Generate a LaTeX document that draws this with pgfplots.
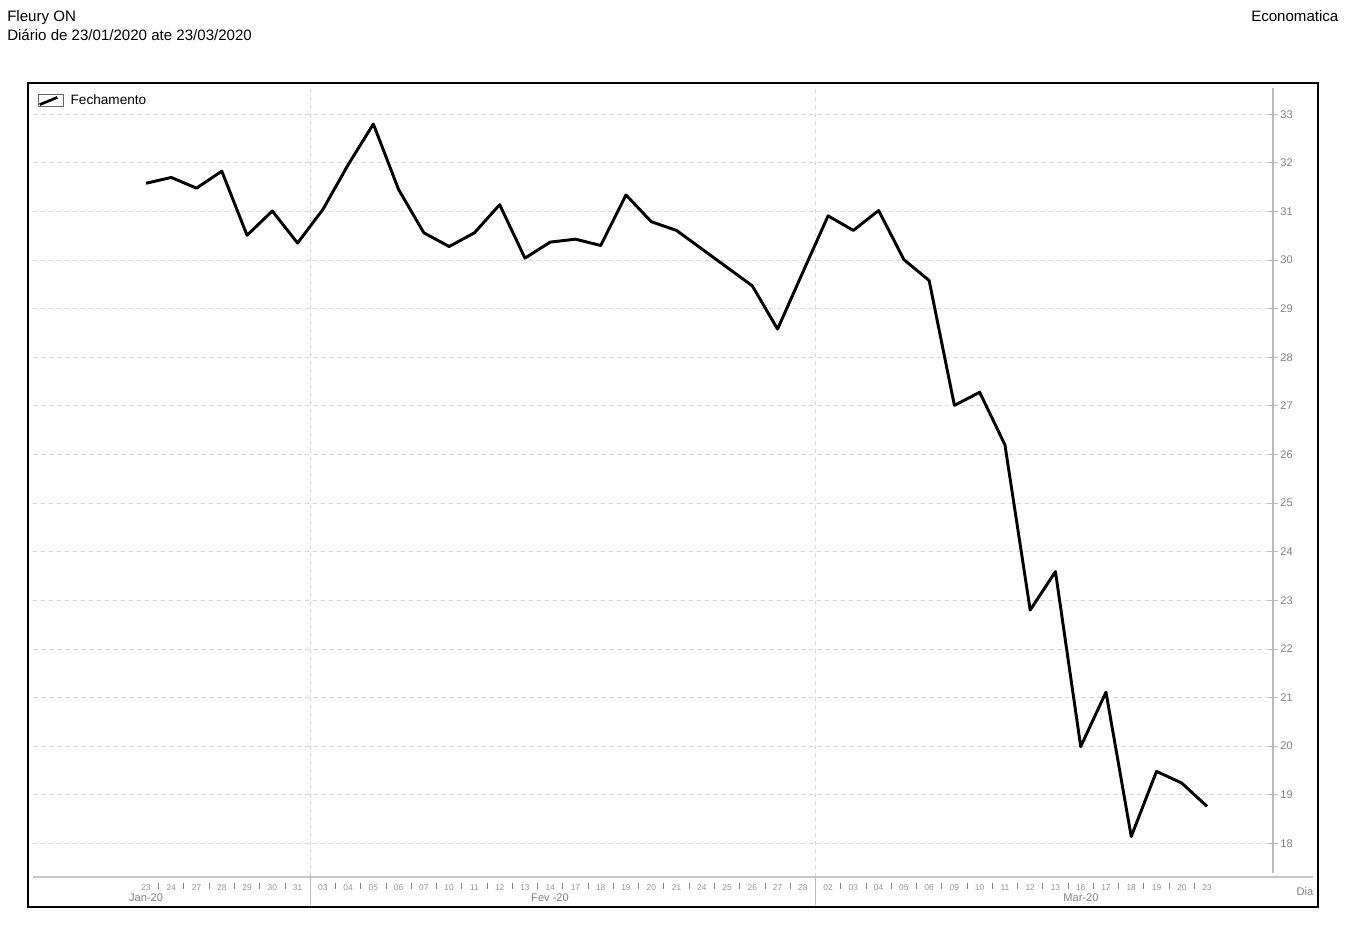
\documentclass[border=0pt]{standalone}
\usepackage{pgfplots}
\pgfplotsset{compat=1.18}
\usepackage{fontspec}
\setmainfont{Liberation Sans}
\definecolor{tickgray}{RGB}{128,128,128}
\definecolor{axgray}{RGB}{185,185,185}
\definecolor{gridgray}{RGB}{215,215,215}

\begin{document}
\begin{tikzpicture}[x=0.75pt,y=0.75pt]
% page = 1345 x 927 px, coordinates below in px (y measured upward)
\path[use as bounding box] (0,0) rectangle (1345,927);

\node[anchor=base west,inner sep=0pt,font=\fontsize{11.3}{13}\selectfont] at (7,905) {Fleury ON};
\node[anchor=base west,inner sep=0pt,font=\fontsize{11.3}{13}\selectfont] at (7,886) {Diário de 23/01/2020 ate 23/03/2020};
\node[anchor=base west,inner sep=0pt,font=\fontsize{11.3}{13}\selectfont] at (1251,905) {Economatica};

\begin{axis}[
    at={(24.75pt,37.5pt)}, anchor=south west,
    scale only axis,
    width=930pt, height=591.9pt,
    xmin=-4.473, xmax=44.612,
    ymin=17.307, ymax=33.545,
    axis line style={draw=none},
    clip=false,
    /pgf/number format/assume math mode=true,
    ytick={18,...,33},
    ytick pos=right, yticklabel pos=right,
    yticklabel style={font=\fontsize{8.3}{10}\selectfont, text=tickgray, xshift=-1.5pt},
    ytick style={axgray, line width=0.6pt},
    tick align=center,
    major tick length=7pt,
    ymajorgrids=true,
    major grid style={gridgray, dashed, dash pattern=on 3pt off 3pt, line width=0.6pt},
    xtick={0,...,42},
    xticklabels={23,24,27,28,29,30,31,03,04,05,06,07,10,11,12,13,14,17,18,19,20,21,24,25,26,27,28,02,03,04,05,06,09,10,11,12,13,16,17,18,19,20,23},
    xtick pos=bottom,
    x tick style={draw=none},
    xticklabel style={font=\fontsize{6.3}{7}\selectfont, text=tickgray!85, yshift=1.5pt},
    extra x ticks={6.5,26.5},
    extra x tick labels={},
    extra x tick style={grid=major, tick style={draw=none}},
    legend style={at={(rel axis cs:0.003,0.997)}, anchor=north west, draw=none, fill=none,
        font=\fontsize{10.2}{12}\selectfont, inner xsep=1pt, inner ysep=1pt},
    legend cell align=left,
    legend image code/.code={
        \path[draw=none] (0pt,0pt) -- (22pt,0pt);
        \draw[black!60, line width=0.5pt] (0pt,-4.5pt) rectangle (18.5pt,4.5pt);
        \draw[black, line width=2pt] (0.8pt,-3.2pt) -- (14pt,2.2pt);
    },
]
\addplot[black, line width=2.2pt, line join=round] coordinates {
    (0,31.58) (1,31.70) (2,31.48) (3,31.83) (4,30.51) (5,31.01) (6,30.35)
    (7,31.04) (8,31.96) (9,32.80) (10,31.45) (11,30.56) (12,30.28) (13,30.56)
    (14,31.14) (15,30.04) (16,30.37) (17,30.43) (18,30.30) (19,31.34) (20,30.79)
    (21,30.61) (22,30.23) (23,29.85) (24,29.47) (25,28.58) (26,29.75)
    (27,30.91) (28,30.61) (29,31.02) (30,30.01) (31,29.58) (32,27.01) (33,27.28)
    (34,26.20) (35,22.80) (36,23.59) (37,19.99) (38,21.11) (39,18.14) (40,19.48)
    (41,19.24) (42,18.76)
};
\addlegendentry{Fechamento}
\end{axis}

% axis lines, separators and frame
\draw[axgray, line width=0.9pt] (1273,839) -- (1273,54);
\draw[gridgray!80!gray, line width=0.9pt] (33,50) -- (1313,50);
\draw[axgray, line width=0.9pt] (310.2,50) -- (310.2,22);
\draw[axgray, line width=0.9pt] (815.4,50) -- (815.4,22);
\foreach \i in {0,...,5,7,8,...,25,27,28,...,41}
    \draw[tickgray, line width=0.6pt] ({146+25.262*(\i+0.5)},43.5) -- ++(0,-6);
\node[anchor=base,font=\fontsize{8.3}{10}\selectfont,text=tickgray] at (146,25) {Jan-20};
\node[anchor=base,font=\fontsize{8.3}{10}\selectfont,text=tickgray] at (550,25) {Fev -20};
\node[anchor=base,font=\fontsize{8.3}{10}\selectfont,text=tickgray] at (1081,25) {Mar-20};
\node[anchor=base,font=\fontsize{8.3}{10}\selectfont,text=tickgray] at (1305,31) {Dia};
\draw[black, line width=2pt] (28,20) rectangle (1318,844);
\end{tikzpicture}
\end{document}
